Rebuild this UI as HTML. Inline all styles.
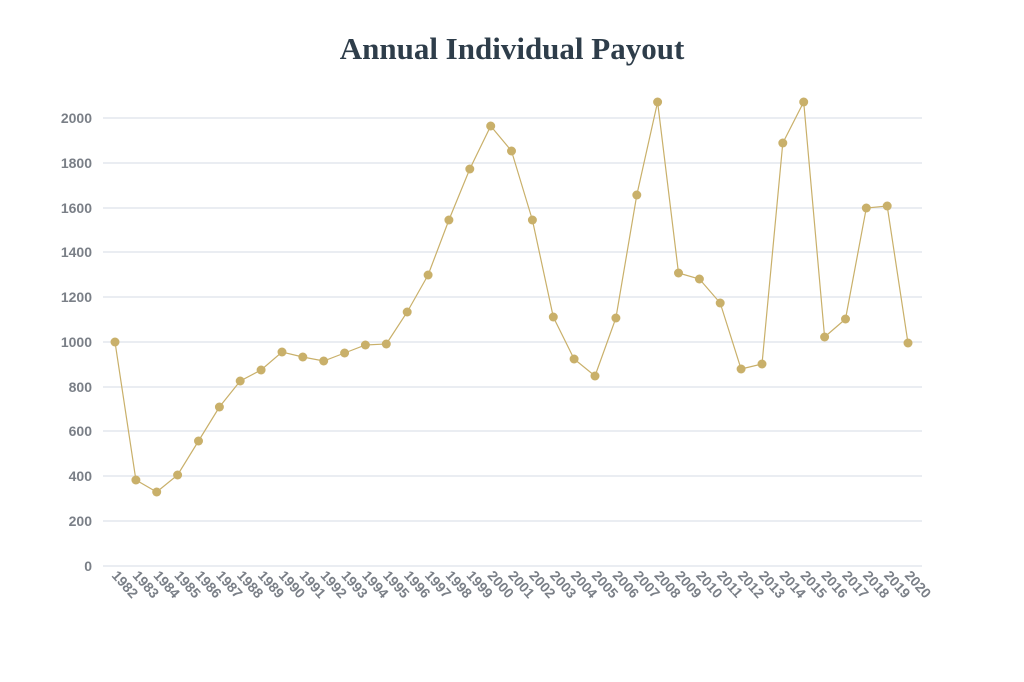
<!DOCTYPE html>
<html><head><meta charset="utf-8"><style>
html,body{margin:0;padding:0;background:#fff;width:1024px;height:682px;overflow:hidden}
</style></head><body>
<svg width="1024" height="682" viewBox="0 0 1024 682" xmlns="http://www.w3.org/2000/svg">
<text x="512" y="59" text-anchor="middle" font-family="Liberation Serif, serif" font-weight="bold" font-size="31" fill="#2e3d4a">Annual Individual Payout</text>
<g stroke="#e4e7ee" stroke-width="1.5">
<line x1="103" y1="118" x2="922" y2="118"/><line x1="103" y1="163" x2="922" y2="163"/>
<line x1="103" y1="208" x2="922" y2="208"/><line x1="103" y1="252" x2="922" y2="252"/>
<line x1="103" y1="297" x2="922" y2="297"/><line x1="103" y1="342" x2="922" y2="342"/>
<line x1="103" y1="387" x2="922" y2="387"/><line x1="103" y1="431" x2="922" y2="431"/>
<line x1="103" y1="476" x2="922" y2="476"/><line x1="103" y1="521" x2="922" y2="521"/>
<line x1="103" y1="566" x2="922" y2="566"/>
</g>
<g font-family="Liberation Sans, sans-serif" font-weight="bold" font-size="14" fill="#7a7f87" text-anchor="end">
<text x="92" y="123">2000</text><text x="92" y="168">1800</text><text x="92" y="213">1600</text>
<text x="92" y="257">1400</text><text x="92" y="302">1200</text><text x="92" y="347">1000</text>
<text x="92" y="392">800</text><text x="92" y="436">600</text><text x="92" y="481">400</text>
<text x="92" y="526">200</text><text x="92" y="571">0</text>
</g>
<polyline fill="none" stroke="#c9b06a" stroke-width="1.2" points="115,342 135.9,480 156.7,492 177.6,475 198.5,441 219.4,407 240.2,381 261.1,370 282,352 302.8,357 323.7,361 344.6,353 365.4,345 386.3,344 407.2,312 428.1,275 448.9,220 469.8,169 490.7,126 511.5,151 532.4,220 553.3,317 574.1,359 595,376 615.9,318 636.8,195 657.6,102 678.5,273 699.4,279 720.2,303 741.1,369 762,364 782.8,143 803.7,102 824.6,337 845.5,319 866.3,208 887.2,206 908,343"/>
<g fill="#c9b06a">
<circle cx="115" cy="342" r="4.5"/><circle cx="135.9" cy="480" r="4.5"/><circle cx="156.7" cy="492" r="4.5"/><circle cx="177.6" cy="475" r="4.5"/><circle cx="198.5" cy="441" r="4.5"/><circle cx="219.4" cy="407" r="4.5"/><circle cx="240.2" cy="381" r="4.5"/><circle cx="261.1" cy="370" r="4.5"/><circle cx="282" cy="352" r="4.5"/><circle cx="302.8" cy="357" r="4.5"/><circle cx="323.7" cy="361" r="4.5"/><circle cx="344.6" cy="353" r="4.5"/><circle cx="365.4" cy="345" r="4.5"/><circle cx="386.3" cy="344" r="4.5"/><circle cx="407.2" cy="312" r="4.5"/><circle cx="428.1" cy="275" r="4.5"/><circle cx="448.9" cy="220" r="4.5"/><circle cx="469.8" cy="169" r="4.5"/><circle cx="490.7" cy="126" r="4.5"/><circle cx="511.5" cy="151" r="4.5"/><circle cx="532.4" cy="220" r="4.5"/><circle cx="553.3" cy="317" r="4.5"/><circle cx="574.1" cy="359" r="4.5"/><circle cx="595" cy="376" r="4.5"/><circle cx="615.9" cy="318" r="4.5"/><circle cx="636.8" cy="195" r="4.5"/><circle cx="657.6" cy="102" r="4.5"/><circle cx="678.5" cy="273" r="4.5"/><circle cx="699.4" cy="279" r="4.5"/><circle cx="720.2" cy="303" r="4.5"/><circle cx="741.1" cy="369" r="4.5"/><circle cx="762" cy="364" r="4.5"/><circle cx="782.8" cy="143" r="4.5"/><circle cx="803.7" cy="102" r="4.5"/><circle cx="824.6" cy="337" r="4.5"/><circle cx="845.5" cy="319" r="4.5"/><circle cx="866.3" cy="208" r="4.5"/><circle cx="887.2" cy="206" r="4.5"/><circle cx="908" cy="343" r="4.5"/>
</g>
<g font-family="Liberation Sans, sans-serif" font-weight="bold" font-size="14" fill="#7a7f87">
<text transform="translate(111,576) rotate(48)">1982</text>
<text transform="translate(131.9,576) rotate(48)">1983</text>
<text transform="translate(152.7,576) rotate(48)">1984</text>
<text transform="translate(173.6,576) rotate(48)">1985</text>
<text transform="translate(194.5,576) rotate(48)">1986</text>
<text transform="translate(215.4,576) rotate(48)">1987</text>
<text transform="translate(236.2,576) rotate(48)">1988</text>
<text transform="translate(257.1,576) rotate(48)">1989</text>
<text transform="translate(278,576) rotate(48)">1990</text>
<text transform="translate(298.8,576) rotate(48)">1991</text>
<text transform="translate(319.7,576) rotate(48)">1992</text>
<text transform="translate(340.6,576) rotate(48)">1993</text>
<text transform="translate(361.4,576) rotate(48)">1994</text>
<text transform="translate(382.3,576) rotate(48)">1995</text>
<text transform="translate(403.2,576) rotate(48)">1996</text>
<text transform="translate(424.1,576) rotate(48)">1997</text>
<text transform="translate(444.9,576) rotate(48)">1998</text>
<text transform="translate(465.8,576) rotate(48)">1999</text>
<text transform="translate(486.7,576) rotate(48)">2000</text>
<text transform="translate(507.5,576) rotate(48)">2001</text>
<text transform="translate(528.4,576) rotate(48)">2002</text>
<text transform="translate(549.3,576) rotate(48)">2003</text>
<text transform="translate(570.1,576) rotate(48)">2004</text>
<text transform="translate(591,576) rotate(48)">2005</text>
<text transform="translate(611.9,576) rotate(48)">2006</text>
<text transform="translate(632.8,576) rotate(48)">2007</text>
<text transform="translate(653.6,576) rotate(48)">2008</text>
<text transform="translate(674.5,576) rotate(48)">2009</text>
<text transform="translate(695.4,576) rotate(48)">2010</text>
<text transform="translate(716.2,576) rotate(48)">2011</text>
<text transform="translate(737.1,576) rotate(48)">2012</text>
<text transform="translate(758,576) rotate(48)">2013</text>
<text transform="translate(778.8,576) rotate(48)">2014</text>
<text transform="translate(799.7,576) rotate(48)">2015</text>
<text transform="translate(820.6,576) rotate(48)">2016</text>
<text transform="translate(841.5,576) rotate(48)">2017</text>
<text transform="translate(862.3,576) rotate(48)">2018</text>
<text transform="translate(883.2,576) rotate(48)">2019</text>
<text transform="translate(904,576) rotate(48)">2020</text>
</g>
</svg>
</body></html>
